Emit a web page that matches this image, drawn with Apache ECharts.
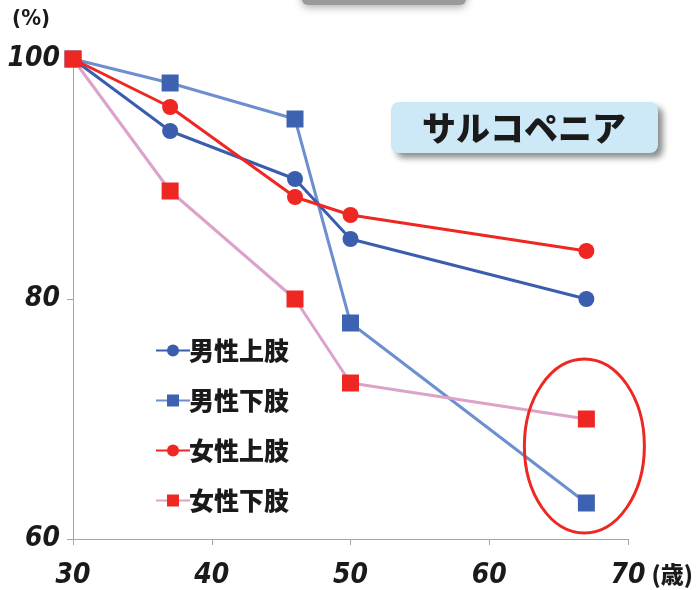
<!DOCTYPE html>
<html>
<head>
<meta charset="utf-8">
<script src="https://cdn.jsdelivr.net/npm/echarts@6/dist/echarts.min.js"></script>
<style>
  html, body { margin: 0; padding: 0; background: #fff; }
  #chart { width: 700px; height: 590px; }
</style>
</head>
<body>
<div id="chart"></div>
<script>
// 年齢（歳）
var ages = [30, 37, 46, 50, 67];
// 各グループの筋量（30歳を100%とした割合）
var maleUpper = [100, 94, 90, 85, 80];
var maleLower = [100, 98, 95, 78, 63];
var femaleUpper = [100, 96, 88.5, 87, 84];
var femaleLower = [100, 89, 80, 73, 70];
var seriesNames = ['男性上肢', '男性下肢', '女性上肢', '女性下肢'];
var yTicks = [60, 80, 100];

function pairs(vals) {
    var out = [];
    for (var i = 0; i < ages.length; i++) {
        out.push([ages[i], vals[i]]);
    }
    return out;
}

var numFont = "'DejaVu Sans Condensed', 'DejaVu Sans', sans-serif";
var jpFont = "'Noto Sans CJK JP', sans-serif";

var option = {
    animation: false,
    backgroundColor: '#fff',
    grid: { left: 73, right: 72, top: 59, bottom: 49 },
    legend: {
        orient: 'vertical',
        left: 150,
        top: 333,
        itemWidth: 34,
        itemHeight: 15,
        itemGap: 25,
        data: seriesNames,
        textStyle: { fontFamily: jpFont, fontWeight: 900, fontSize: 25, color: '#1a1a1a', padding: [0, 0, 0, -6] }
    },
    xAxis: {
        type: 'value',
        min: 30,
        max: 70,
        interval: 10,
        name: '(歳)',
        nameLocation: 'end',
        nameGap: 14,
        nameTextStyle: {
            fontFamily: jpFont, fontWeight: 900, fontSize: 23, color: '#1a1a1a',
            align: 'left', verticalAlign: 'top', padding: [24, 0, 0, 0]
        },
        axisLine: { lineStyle: { color: '#a6a6a6', width: 1 } },
        axisTick: { show: true, length: 6, lineStyle: { color: '#a6a6a6' } },
        splitLine: { show: false },
        axisLabel: {
            margin: 23,
            fontFamily: numFont, fontWeight: 'bold', fontStyle: 'italic', fontSize: 28, color: '#1a1a1a'
        }
    },
    yAxis: {
        type: 'value',
        min: 60,
        max: 100,
        interval: 20,
        name: '(%)',
        nameLocation: 'end',
        nameGap: 29,
        nameTextStyle: {
            fontFamily: numFont, fontWeight: 'bold', fontSize: 22, color: '#1a1a1a',
            align: 'right', padding: [0, 23, 0, 0]
        },
        axisLine: { show: true, lineStyle: { color: '#a6a6a6', width: 1 } },
        axisTick: { show: true, length: 6, lineStyle: { color: '#a6a6a6' } },
        splitLine: { show: false },
        axisLabel: {
            margin: 13,
            fontFamily: numFont, fontWeight: 'bold', fontStyle: 'italic', fontSize: 28, color: '#1a1a1a',
            formatter: function (v) { return yTicks.indexOf(v) >= 0 ? String(v) : ''; }
        }
    },
    series: [
        {
            name: seriesNames[0], type: 'line', data: pairs(maleUpper),
            symbol: 'circle', symbolSize: 16, z: 3,
            lineStyle: { color: '#3a5dae', width: 3 },
            itemStyle: { color: '#3a5dae' }
        },
        {
            name: seriesNames[1], type: 'line', data: pairs(maleLower),
            symbol: 'rect', symbolSize: 17, z: 2,
            lineStyle: { color: '#6d8fd0', width: 3 },
            itemStyle: { color: '#3d62b2' }
        },
        {
            name: seriesNames[2], type: 'line', data: pairs(femaleUpper),
            symbol: 'circle', symbolSize: 16, z: 4,
            lineStyle: { color: '#ee2722', width: 3 },
            itemStyle: { color: '#ee2722' }
        },
        {
            name: seriesNames[3], type: 'line', data: pairs(femaleLower),
            symbol: 'rect', symbolSize: 17, z: 5,
            lineStyle: { color: '#dca2ca', width: 3 },
            itemStyle: { color: '#ee2722' }
        }
    ]
};

var myChart = echarts.init(document.getElementById('chart'));
myChart.setOption(option);

// 67歳の下肢の2点を囲む楕円
var ptHigh = myChart.convertToPixel({ gridIndex: 0 }, [ages[4], femaleLower[4]]);
var ptLow = myChart.convertToPixel({ gridIndex: 0 }, [ages[4], maleLower[4]]);
var ellX = ptHigh[0] - 2;
var ellY = (ptHigh[1] + ptLow[1]) / 2 - 15;

myChart.setOption({
    graphic: [
        {
            type: 'rect',
            shape: { x: 302, y: -20, width: 164, height: 25, r: 6 },
            style: { fill: '#9a9a9a', shadowBlur: 8, shadowColor: 'rgba(0,0,0,0.35)', shadowOffsetY: 2 }
        },
        {
            type: 'ellipse',
            shape: { cx: ellX, cy: ellY, rx: 60, ry: 87 },
            style: { fill: 'none', stroke: '#ee2722', lineWidth: 3 },
            z: 10
        },
        {
            type: 'group',
            left: 391,
            top: 102,
            children: [
                {
                    type: 'rect',
                    shape: { x: 0, y: 0, width: 267, height: 51, r: 8 },
                    style: {
                        fill: '#cde8f7',
                        shadowBlur: 6, shadowColor: 'rgba(0,0,0,0.45)',
                        shadowOffsetX: 5, shadowOffsetY: 5
                    }
                },
                {
                    type: 'text',
                    x: 133, y: 26,
                    style: {
                        text: 'サルコペニア',
                        fontFamily: jpFont, fontWeight: 900, fontSize: 34,
                        fill: '#1a1a1a', align: 'center', verticalAlign: 'middle'
                    }
                }
            ]
        }
    ]
});

window.addEventListener('resize', function () {
    myChart.resize();
});
</script>
</body>
</html>
